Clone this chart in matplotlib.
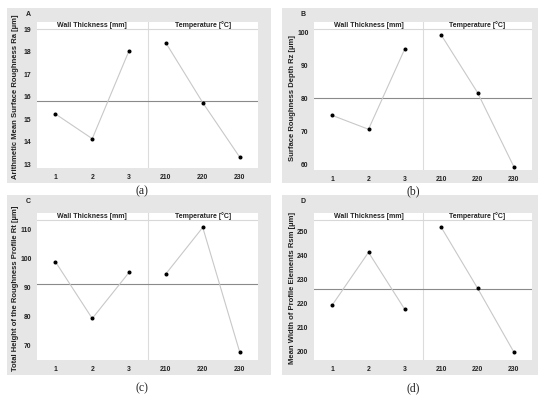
import matplotlib.pyplot as plt
from matplotlib.patches import Rectangle
import matplotlib.transforms as mtransforms

W, H = 550, 396

thick_labels = ["1", "2", "3"]
temp_labels = ["210", "220", "230"]
header_left = "Wall Thickness [mm]"
header_right = "Temperature [°C]"

ra_thick = [15.24, 14.14, 18.05]
ra_temp = [18.39, 15.74, 13.33]

rz_thick = [74.9, 70.7, 95.0]
rz_temp = [99.2, 81.8, 59.4]

rt_thick = [98.9, 79.2, 95.2]
rt_temp = [94.7, 110.8, 67.7]

rsm_thick = [219.3, 241.25, 217.5]
rsm_temp = [251.7, 226.4, 199.8]

letters = ["A", "B", "C", "D"]
captions = ["(a)", "(b)", "(c)", "(d)"]
ylabels = ["Arithmetic Mean Surface Roughness Ra [µm]",
           "Surface Roughness Depth Rz [µm]",
           "Total Height of the Roughness Profile Rt [µm]",
           "Mean Width of Profile Elements Rsm [µm]"]
thick_vals = [ra_thick, rz_thick, rt_thick, rsm_thick]
temp_vals = [ra_temp, rz_temp, rt_temp, rsm_temp]
yticks = [range(13, 20), range(60, 101, 10), range(70, 111, 10), range(200, 251, 10)]

# layout in pixels: gray box, white plot box, y limits
gray_boxes = [(7, 8, 271, 183), (282, 8, 538, 183), (7, 195, 271, 375), (282, 195, 538, 375)]
ax_boxes = [(37, 22, 258, 168), (314, 22, 532, 170), (37, 213, 258, 360), (314, 213, 532, 360)]
ylims = [(12.84, 19.32), (58.4, 103.1), (64.8, 115.8), (196.5, 257.6)]
caption_y = [191, 191, 388, 388]

SANS = "Liberation Sans"

fig = plt.figure(figsize=(W / 100, H / 100), dpi=100)
fig.patch.set_facecolor("white")


def fx(px):
    return px / W


def fy(py):
    return 1 - py / H


for i in range(4):
    gx0, gy0, gx1, gy1 = gray_boxes[i]
    fig.patches.append(Rectangle((fx(gx0), fy(gy1)), fx(gx1) - fx(gx0), fy(gy0) - fy(gy1),
                                 transform=fig.transFigure, facecolor="#e6e6e6",
                                 edgecolor="none", zorder=-10))
    ax0, ay0, ax1, ay1 = ax_boxes[i]
    ax = fig.add_axes([fx(ax0), fy(ay1), fx(ax1) - fx(ax0), fy(ay0) - fy(ay1)])
    ax.set_facecolor("white")
    for s in ax.spines.values():
        s.set_visible(False)

    allv = thick_vals[i] + temp_vals[i]
    mean = sum(allv) / len(allv)
    ax.axhline(mean, color="#8a8a8a", lw=0.8, zorder=2)
    ax.axvline(3, color="#dcdcdc", lw=0.8, zorder=1)

    ax.plot([0.5, 1.5, 2.5], thick_vals[i], color="#c8c8c8", lw=0.8, zorder=3)
    ax.plot([3.5, 4.5, 5.5], temp_vals[i], color="#c8c8c8", lw=0.8, zorder=3)
    ax.plot([0.5, 1.5, 2.5], thick_vals[i], "o", color="black", ms=1.9, zorder=4)
    ax.plot([3.5, 4.5, 5.5], temp_vals[i], "o", color="black", ms=1.9, zorder=4)

    ax.set_xlim(0, 6)
    ax.set_ylim(*ylims[i])
    ax.set_xticks([0.5, 1.5, 2.5, 3.5, 4.5, 5.5])
    ax.set_xticklabels(thick_labels + temp_labels)
    ax.set_yticks(list(yticks[i]))
    ax.tick_params(length=0, pad=4, labelsize=4.9, colors="#222222")
    for lab in ax.get_xticklabels() + ax.get_yticklabels():
        lab.set_fontfamily(SANS)
        lab.set_fontweight("bold")

    # header strip
    hh = 6.5 / (ay1 - ay0)
    ax.plot([0, 1], [1 - hh, 1 - hh], color="#d8d8d8", lw=0.8,
            transform=ax.transAxes, zorder=2)
    tr = mtransforms.blended_transform_factory(ax.transData, ax.transAxes)
    ax.text(1.5, 1 - hh / 2, header_left, transform=tr, ha="center", va="center",
            fontsize=5.0, fontweight="bold", family=SANS, color="#222222")
    ax.text(4.5, 1 - hh / 2, header_right, transform=tr, ha="center", va="center",
            fontsize=5.0, fontweight="bold", family=SANS, color="#222222")

    fig.text(fx(ax0 - 21), fy((ay0 + ay1) / 2 + 2), ylabels[i], rotation=90,
             ha="center", va="center", fontsize=5.5, fontweight="bold",
             family=SANS, color="#222222")
    fig.text(fx(gx0 + 21), fy(gy0 + 7), letters[i], ha="center", va="center",
             fontsize=5.0, fontweight="bold", family=SANS, color="#222222")
    fig.text(fx((gx0 + gx1) / 2 + 3), fy(caption_y[i]), captions[i], ha="center",
             va="center", fontsize=8.5, family="Liberation Serif", color="#222222")

fig.savefig("out.png", dpi=100)
